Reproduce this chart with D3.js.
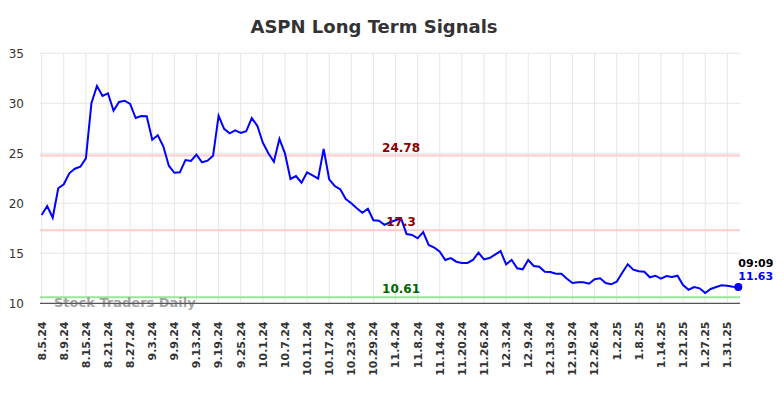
<!DOCTYPE html>
<html>
<head>
<meta charset="utf-8">
<script src="https://cdn.jsdelivr.net/npm/d3@7"></script>
<style>
  body { margin: 0; background: #fff; }
  text { font-family: "DejaVu Sans", sans-serif; }
</style>
</head>
<body>
<svg id="chart" width="784" height="398"></svg>
<script>
const dates = [
  "8.5.24","8.6.24","8.7.24","8.8.24","8.9.24","8.12.24","8.13.24","8.14.24","8.15.24","8.16.24",
  "8.19.24","8.20.24","8.21.24","8.22.24","8.23.24","8.26.24","8.27.24","8.28.24","8.29.24","8.30.24",
  "9.3.24","9.4.24","9.5.24","9.6.24","9.9.24","9.10.24","9.11.24","9.12.24","9.13.24","9.16.24",
  "9.17.24","9.18.24","9.19.24","9.20.24","9.23.24","9.24.24","9.25.24","9.26.24","9.27.24","9.30.24",
  "10.1.24","10.2.24","10.3.24","10.4.24","10.7.24","10.8.24","10.9.24","10.10.24","10.11.24","10.14.24",
  "10.15.24","10.16.24","10.17.24","10.18.24","10.21.24","10.22.24","10.23.24","10.24.24","10.25.24","10.28.24",
  "10.29.24","10.30.24","10.31.24","11.1.24","11.4.24","11.5.24","11.6.24","11.7.24","11.8.24","11.11.24",
  "11.12.24","11.13.24","11.14.24","11.15.24","11.18.24","11.19.24","11.20.24","11.21.24","11.22.24","11.25.24",
  "11.26.24","11.27.24","11.29.24","12.2.24","12.3.24","12.4.24","12.5.24","12.6.24","12.9.24","12.10.24",
  "12.11.24","12.12.24","12.13.24","12.16.24","12.17.24","12.18.24","12.19.24","12.20.24","12.23.24","12.24.24",
  "12.26.24","12.27.24","12.30.24","12.31.24","1.2.25","1.3.25","1.6.25","1.7.25","1.8.25","1.9.25",
  "1.10.25","1.13.25","1.14.25","1.15.25","1.16.25","1.17.25","1.21.25","1.22.25","1.23.25","1.24.25",
  "1.27.25","1.28.25","1.29.25","1.30.25","1.31.25","2.3.25","2.4.25"
];

const prices = [
  18.83, 19.73, 18.56, 21.5, 21.9, 23.0, 23.46, 23.66, 24.5, 30.0,
  31.73, 30.73, 31.0, 29.26, 30.13, 30.26, 29.93, 28.53, 28.73, 28.7,
  26.36, 26.8, 25.7, 23.76, 23.05, 23.1, 24.33, 24.23, 24.87, 24.1,
  24.26, 24.75, 28.75, 27.45, 27.0, 27.3, 27.03, 27.2, 28.53, 27.75,
  26.06, 25.0, 24.16, 26.45, 25.0, 22.43, 22.73, 22.06, 23.1, 22.8,
  22.46, 25.43, 22.4, 21.73, 21.4, 20.43, 20.0, 19.5, 19.06, 19.46,
  18.3, 18.25, 17.85, 18.1, 18.3, 18.5, 16.93, 16.83, 16.5, 17.12,
  15.83, 15.58, 15.15, 14.33, 14.52, 14.16, 14.03, 14.03, 14.33, 15.06,
  14.4, 14.53, 14.87, 15.22, 13.9, 14.33, 13.5, 13.4, 14.33, 13.73,
  13.66, 13.16, 13.13, 12.96, 12.96, 12.46, 12.03, 12.1, 12.1, 11.96,
  12.4, 12.5, 12.03, 11.9, 12.16, 13.06, 13.9, 13.37, 13.2, 13.16,
  12.6, 12.76, 12.46, 12.73, 12.63, 12.76, 11.83, 11.36, 11.63, 11.5,
  11.03, 11.43, 11.63, 11.8, 11.76, 11.66, 11.63
];

const yTicks = [10, 15, 20, 25, 30, 35];

// support / resistance levels
const levels = [24.78, 17.3, 10.61];
const levelColors = ["#ffcccc", "#ffcccc", "#99e699"];
const levelTextColors = ["#8b0000", "#8b0000", "#006400"];

const lastTime = "09:09";

const svg = d3.select("#chart");
const plotLeft = 40, plotRight = 740, plotTop = 53.3, plotBottom = 303.3;

const x = d3.scalePoint().domain(dates).range([plotLeft, plotRight]).padding(0.3);
const y = d3.scaleLinear().domain([10, 35]).range([plotBottom, plotTop]);

// title
svg.append("text")
  .attr("x", 374)
  .attr("y", 33)
  .attr("text-anchor", "middle")
  .attr("font-size", 18)
  .attr("font-weight", "bold")
  .attr("fill", "#333")
  .text("ASPN Long Term Signals");

// grid
const gGrid = svg.append("g");
gGrid.selectAll(".hgrid")
  .data(yTicks)
  .enter()
  .append("line")
  .attr("x1", plotLeft).attr("x2", plotRight)
  .attr("y1", d => y(d)).attr("y2", d => y(d))
  .attr("stroke", "#e6e6e6")
  .attr("stroke-width", 1);

const tickDates = dates.filter((d, i) => i % 4 === 0);
gGrid.selectAll(".vgrid")
  .data(tickDates)
  .enter()
  .append("line")
  .attr("x1", d => x(d)).attr("x2", d => x(d))
  .attr("y1", plotTop).attr("y2", plotBottom)
  .attr("stroke", "#e6e6e6")
  .attr("stroke-width", 1);

// y labels
svg.append("g").selectAll("text")
  .data(yTicks)
  .enter()
  .append("text")
  .attr("x", 24)
  .attr("y", d => y(d))
  .attr("dy", "0.35em")
  .attr("text-anchor", "end")
  .attr("font-size", 12)
  .attr("fill", "#333")
  .text(d => d);

// x labels
svg.append("g").selectAll("text")
  .data(tickDates)
  .enter()
  .append("text")
  .attr("transform", d => `translate(${x(d)},321.5) rotate(-90)`)
  .attr("dy", "0.35em")
  .attr("text-anchor", "end")
  .attr("font-size", 11)
  .attr("font-weight", "bold")
  .attr("fill", "#333")
  .text(d => d);

// level lines
svg.append("g").selectAll("line")
  .data(levels)
  .enter()
  .append("line")
  .attr("x1", plotLeft).attr("x2", plotRight)
  .attr("y1", d => y(d)).attr("y2", d => y(d))
  .attr("stroke", (d, i) => levelColors[i])
  .attr("stroke-width", 2);

// watermark
svg.append("text")
  .attr("x", 54)
  .attr("y", 307)
  .attr("font-size", 13)
  .attr("font-weight", "bold")
  .attr("fill", "#999")
  .attr("fill-opacity", 0.9)
  .text("Stock Traders Daily");

// bottom axis line
svg.append("line")
  .attr("x1", plotLeft).attr("x2", plotRight)
  .attr("y1", plotBottom).attr("y2", plotBottom)
  .attr("stroke", "#555")
  .attr("stroke-width", 1.2);

// price line
const line = d3.line()
  .x((d, i) => x(dates[i]))
  .y(d => y(d));

svg.append("path")
  .datum(prices)
  .attr("d", line)
  .attr("fill", "none")
  .attr("stroke", "#0000ff")
  .attr("stroke-width", 2);

// level labels
svg.append("g").selectAll("text")
  .data(levels)
  .enter()
  .append("text")
  .attr("x", x(dates[65]))
  .attr("y", d => y(d) - 4)
  .attr("text-anchor", "middle")
  .attr("font-size", 12)
  .attr("font-weight", "bold")
  .attr("fill", (d, i) => levelTextColors[i])
  .text(d => d);

// last point
const lastIdx = prices.length - 1;
const lx = x(dates[lastIdx]);
const ly = y(prices[lastIdx]);

svg.append("circle")
  .attr("cx", lx)
  .attr("cy", ly)
  .attr("r", 4)
  .attr("fill", "#0000ff");

svg.append("text")
  .attr("x", lx)
  .attr("y", ly - 20)
  .attr("font-size", 11)
  .attr("font-weight", "bold")
  .attr("fill", "#000")
  .text(lastTime);

svg.append("text")
  .attr("x", lx)
  .attr("y", ly - 7)
  .attr("font-size", 11)
  .attr("font-weight", "bold")
  .attr("fill", "#0000ff")
  .text(prices[lastIdx]);
</script>
</body>
</html>
